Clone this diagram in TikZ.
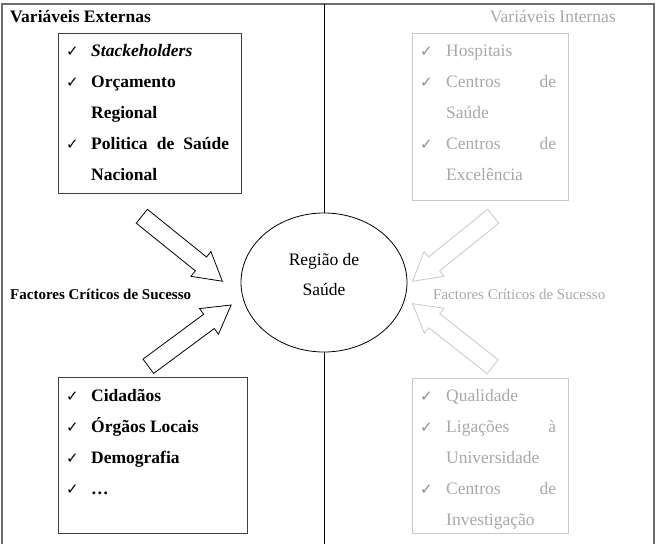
\documentclass[tikz,border=0pt]{standalone}
\usepackage{fontspec}
\setmainfont{Liberation Serif}
\newfontfamily\tickfont{DejaVu Sans}
\usetikzlibrary{shapes.arrows,shapes.geometric}

\newcommand{\tickmark}{{\tickfont\fontsize{15}{15}\selectfont ✓}}

\begin{document}
\begin{tikzpicture}[
  x=1pt,y=-1pt,
  font=\fontsize{17.5}{21}\selectfont,
  frameline/.style={draw=framegray,line width=1.4pt},
  listbox/.style={draw=boxdark,line width=1pt,anchor=north west,inner sep=0pt},
  palebox/.style={draw=palegray,line width=1pt,anchor=north west,inner sep=0pt},
  entry/.style={anchor=base west,inner sep=0pt},
  paleentry/.style={entry,text=paletext},
  tickdark/.style={entry},
  tickpale/.style={entry,text=paletick},
  blockarrow/.style={single arrow,draw=black,line width=0.8pt,inner xsep=0pt,inner ysep=8.5pt,
    single arrow head extend=7pt,single arrow tip angle=60,anchor=tail},
  palearrow/.style={blockarrow,draw=palegray}
]
\definecolor{framegray}{RGB}{110,110,110}
\definecolor{boxdark}{RGB}{64,64,64}
\definecolor{palegray}{RGB}{200,200,200}
\definecolor{paletext}{RGB}{168,168,168}
\definecolor{paletick}{RGB}{140,140,140}

\useasboundingbox (0,0) rectangle (656,544);

% Outer frame, open at the bottom, and the central divider.
\draw[frameline] (2,544) -- (2,4) -- (654,4) -- (654,544);
\coordinate (divtop) at (324,4);
\coordinate (divbottom) at (324,544);

% Central ellipse.
\node[draw,ellipse,line width=0.8pt,minimum width=166pt,minimum height=139pt] (regiao) at (324,282.5) {};
\node[inner sep=0pt,anchor=base] (regiaoA) at (324,265) {Região de};
\node[inner sep=0pt,anchor=base] (regiaoB) at (324,295) {Saúde};
\draw[line width=0.8pt] (divtop) -- (regiao.north);
\draw[line width=0.8pt] (regiao.south) -- (divbottom);

% Headings.
\node[entry,font=\fontsize{17.5}{21}\selectfont\bfseries] (extTitle) at (10,22) {Variáveis Externas};
\node[paleentry,anchor=base east] (intTitle) at (616,22) {Variáveis Internas};
\node[entry,font=\fontsize{15}{18}\selectfont\bfseries] (fcsLeft) at (10,299) {Factores Críticos de Sucesso};
\node[paleentry,font=\fontsize{15}{18}\selectfont] (fcsRight) at (433,299) {Factores Críticos de Sucesso};

% External variables, upper box.
\node[listbox,minimum width=183pt,minimum height=160pt] (extTop) at (58,33) {};
\node[tickdark] at (66,56) {\tickmark};
\node[entry,font=\fontsize{17.5}{21}\selectfont\bfseries\itshape] (stake) at (91,56) {Stackeholders};
\node[tickdark] at (66,87.5) {\tickmark};
\node[entry,font=\fontsize{17.5}{21}\selectfont\bfseries] (orc) at (91,87.5) {Orçamento};
\node[entry,font=\fontsize{17.5}{21}\selectfont\bfseries] (orcB) at (91,118.5) {Regional};
\node[tickdark] at (66,149.5) {\tickmark};
\node[entry,font=\fontsize{17.5}{21}\selectfont\bfseries] (pol) at (91,149.5) {\makebox[138pt][s]{Politica de Saúde}};
\node[entry,font=\fontsize{17.5}{21}\selectfont\bfseries] (polB) at (91,180) {Nacional};

% External variables, lower box.
\node[listbox,minimum width=189pt,minimum height=156pt] (extBot) at (58,377) {};
\node[tickdark] at (66,401) {\tickmark};
\node[entry,font=\fontsize{17.5}{21}\selectfont\bfseries] (cid) at (91,401) {Cidadãos};
\node[tickdark] at (66,432) {\tickmark};
\node[entry,font=\fontsize{17.5}{21}\selectfont\bfseries] (org) at (91,432) {Órgãos Locais};
\node[tickdark] at (66,463) {\tickmark};
\node[entry,font=\fontsize{17.5}{21}\selectfont\bfseries] (dem) at (91,463) {Demografia};
\node[tickdark] at (66,494) {\tickmark};
\node[entry,font=\fontsize{17.5}{21}\selectfont\bfseries] (etc) at (91,494) {…};

% Internal variables, upper box.
\node[palebox,minimum width=156pt,minimum height=167pt] (intTop) at (412,33) {};
\node[tickpale] at (420,56) {\tickmark};
\node[paleentry] (hosp) at (446,56) {Hospitais};
\node[tickpale] at (420,87) {\tickmark};
\node[paleentry] (csA) at (446,87) {\makebox[110pt][s]{Centros de}};
\node[paleentry] (csB) at (446,118) {Saúde};
\node[tickpale] at (420,149) {\tickmark};
\node[paleentry] (ceA) at (446,149) {\makebox[110pt][s]{Centros de}};
\node[paleentry] (ceB) at (446,180) {Excelência};

% Internal variables, lower box.
\node[palebox,minimum width=156pt,minimum height=155pt] (intBot) at (412,378) {};
\node[tickpale] at (420,401) {\tickmark};
\node[paleentry] (qual) at (446,401) {Qualidade};
\node[tickpale] at (420,432) {\tickmark};
\node[paleentry] (ligA) at (446,432) {\makebox[110pt][s]{Ligações à}};
\node[paleentry] (ligB) at (446,463) {Universidade};
\node[tickpale] at (420,494) {\tickmark};
\node[paleentry] (ciA) at (446,494) {\makebox[110pt][s]{Centros de}};
\node[paleentry] (ciB) at (446,525) {Investigação};

% Block arrows pointing at the region.
\node[blockarrow,minimum height=103.5pt,rotate=-38.9] (arrTL) at (141.5,216) {};
\node[blockarrow,minimum height=103pt,rotate=36.5] (arrBL) at (148,366.5) {};
\node[palearrow,minimum height=103.5pt,rotate=-141.1] (arrTR) at (493.5,216) {};
\node[palearrow,minimum height=102pt,rotate=141.8] (arrBR) at (493,367) {};
\end{tikzpicture}
\end{document}
